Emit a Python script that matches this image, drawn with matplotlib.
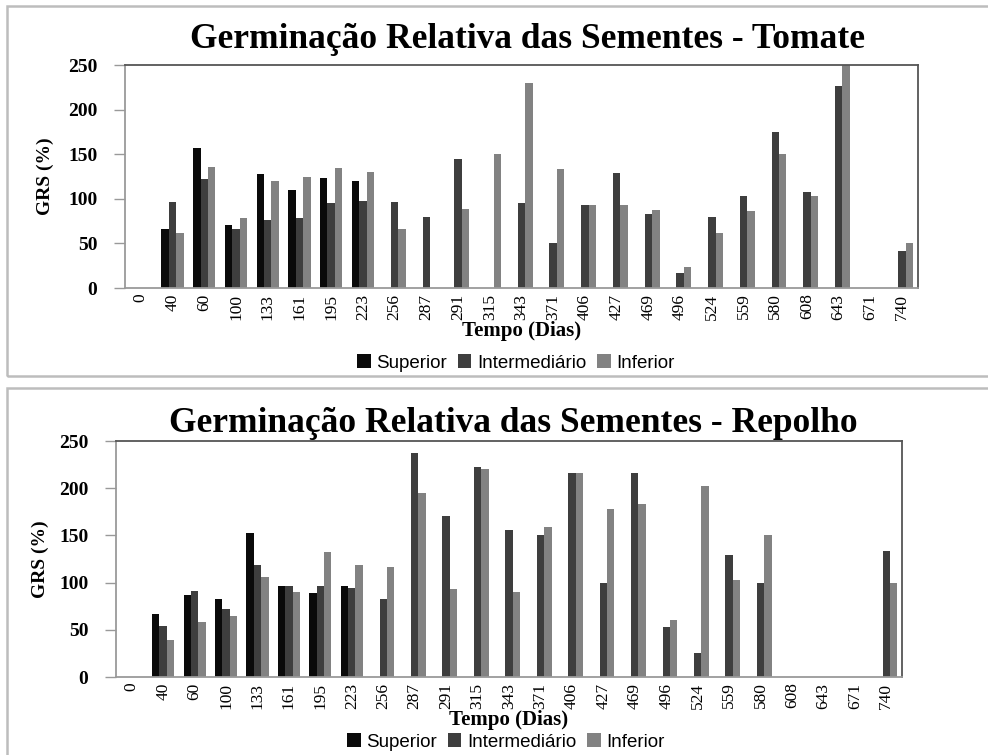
import numpy as np
import matplotlib
matplotlib.use("Agg")
import matplotlib.pyplot as plt
from matplotlib.patches import Rectangle

nan = np.nan

dias = ['0', '40', '60', '100', '133', '161', '195', '223', '256', '287', '291',
        '315', '343', '371', '406', '427', '469', '496', '524', '559', '580',
        '608', '643', '671', '740']

# Tomate
tom_superior = [nan, 66, 157, 71, 128, 110, 123, 120, nan, nan, nan, nan, nan,
                nan, nan, nan, nan, nan, nan, nan, nan, nan, nan, nan, nan]
tom_intermed = [nan, 96, 122, 66, 76, 78, 95, 98, 96, 80, 145, nan, 95,
                51, 93, 129, 83, 17, 80, 103, 175, 108, 226, nan, 41]
tom_inferior = [nan, 62, 136, 79, 120, 124, 135, 130, 66, nan, 89, 150, 230,
                133, 93, 93, 88, 23, 62, 86, 150, 103, 250, nan, 50]

# Repolho
rep_superior = [nan, 67, 87, 83, 153, 96, 89, 96, nan, nan, nan, nan, nan,
                nan, nan, nan, nan, nan, nan, nan, nan, nan, nan, nan, nan]
rep_intermed = [nan, 54, 91, 72, 119, 96, 96, 94, 83, 237, 171, 222, 156,
                150, 216, 100, 216, 53, 25, 129, 100, nan, nan, nan, 133]
rep_inferior = [nan, 39, 58, 65, 106, 90, 132, 119, 117, 195, 93, 220, 90,
                159, 216, 178, 183, 60, 202, 103, 150, nan, nan, nan, 100]

series_names = ['Superior', 'Intermediário', 'Inferior']
cores = ['#0a0a0a', '#3e3e3e', '#828282']

serif = ['Liberation Serif', 'DejaVu Serif']
narrow = ['Liberation Sans Narrow', 'Liberation Sans', 'DejaVu Sans']

fig = plt.figure(figsize=(9.88, 7.55), dpi=100)

# molduras dos dois gráficos
fig.patches.append(Rectangle((7 / 988, 1 - 376 / 755), 1.2, 370 / 755,
                             transform=fig.transFigure, fill=False,
                             edgecolor='#bdbdbd', linewidth=1.8))
fig.patches.append(Rectangle((7 / 988, -0.1), 1.2, 1 - 388 / 755 + 0.1,
                             transform=fig.transFigure, fill=False,
                             edgecolor='#bdbdbd', linewidth=1.8))


def grafico(rect, dados, titulo, titulo_xy, leg_xy, ylab_x):
    ax = fig.add_axes(rect)
    x = np.arange(len(dias))
    w = 0.235
    for k, (vals, nome, cor) in enumerate(zip(dados, series_names, cores)):
        ax.bar(x + (k - 1) * w, np.array(vals, dtype=float), width=w,
               color=cor, label=nome, linewidth=0)
    ax.set_xlim(-0.5, len(dias) - 0.5)
    ax.set_ylim(0, 250)
    ax.set_yticks([0, 50, 100, 150, 200, 250])
    ax.set_xticks(x)
    ax.set_xticklabels(dias, rotation=90, family=serif, fontsize=12.5)
    for t in ax.get_yticklabels():
        t.set_family(serif)
        t.set_fontweight('bold')
        t.set_fontsize(14)
    ax.tick_params(axis='x', length=0, pad=4)
    ax.tick_params(axis='y', length=8, width=1, color='#999999', pad=12)
    ax.spines['left'].set_color('#9a9a9a')
    ax.spines['bottom'].set_color('#9a9a9a')
    ax.spines['top'].set_color('#555555')
    ax.spines['right'].set_color('#555555')
    for s in ax.spines.values():
        s.set_linewidth(1.3)
    ax.set_xlabel('Tempo (Dias)', family=serif, fontweight='bold',
                  fontsize=15, labelpad=1)
    fig.text(ylab_x, rect[1] + rect[3] / 2, 'GRS (%)', family=serif,
             fontweight='bold', fontsize=14, rotation=90,
             ha='center', va='center')
    fig.text(titulo_xy[0], titulo_xy[1], titulo, family=serif,
             fontweight='bold', fontsize=25.5, ha='center', va='center')
    fig.legend(*ax.get_legend_handles_labels(), loc='center',
               bbox_to_anchor=leg_xy, ncol=3, frameon=False,
               prop={'family': narrow, 'size': 13.5}, handlelength=0.7,
               handleheight=0.7, handletextpad=0.3, columnspacing=0.6)
    return ax


grafico([125 / 988, 1 - 288 / 755, 793 / 988, 223 / 755],
        [tom_superior, tom_intermed, tom_inferior],
        'Germinação Relativa das Sementes - Tomate',
        (527 / 988, 1 - 40 / 755), (516 / 988, 1 - 363 / 755), 45 / 988)

grafico([116 / 988, 1 - 677 / 755, 786 / 988, 236 / 755],
        [rep_superior, rep_intermed, rep_inferior],
        'Germinação Relativa das Sementes - Repolho',
        (513 / 988, 1 - 423 / 755), (506 / 988, 1 - 742 / 755), 40 / 988)

fig.savefig('out.png', dpi=100)
